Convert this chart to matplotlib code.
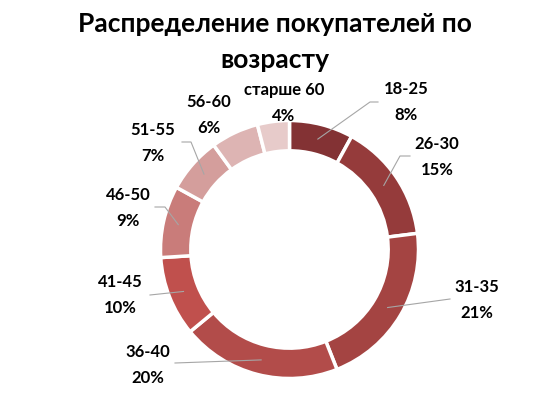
import numpy as np
import matplotlib.pyplot as plt

plt.rcParams['font.family'] = ['Lato', 'DejaVu Sans']

# data
groups = ['18-25', '26-30', '31-35', '36-40', '41-45', '46-50', '51-55', '56-60', 'старше 60']
shares = [8, 15, 21, 20, 10, 9, 7, 6, 4]
colors = ['#833234', '#953B3B', '#A44442', '#B24C4A', '#C0504D',
          '#C97C7A', '#D49E9C', '#DDB4B3', '#E7CBCA']

# label layout in pixels from top-left: text centre, leader elbow, leader end
text_pos = [(406, 102), (437, 157), (477, 300), (148, 365), (120, 295),
            (128, 208), (153, 143), (209, 115), (284, 103)]
elbows = [(370, 102), (400, 156), None, None, None,
          (165, 207), (191, 142), None, None]
ends = [(378, 102), (410, 156), (450, 299), (175, 363), (150, 295),
        (155, 207), (182, 142), None, None]

W, H = 549, 396
fig = plt.figure(figsize=(W / 100, H / 100), dpi=100)
ax = fig.add_axes([0, 0, 1, 1])

cx, cy, R = 289.5, H - 249.5, 129
wedges, _ = ax.pie(shares, colors=colors, startangle=90, counterclock=False,
                   center=(cx, cy), radius=R, frame=True,
                   wedgeprops=dict(width=R * 0.235, edgecolor='white', linewidth=2.5))
ax.set_xlim(0, W)
ax.set_ylim(0, H)
ax.set_aspect('equal')
ax.axis('off')

for w, g, s, tp, el, en in zip(wedges, groups, shares, text_pos, elbows, ends):
    ax.text(tp[0], H - tp[1], f'{g}\n{s}%', ha='center', va='center',
            fontsize=12, fontweight='bold', linespacing=1.7, color='black')
    if en is None:
        continue
    mid = np.deg2rad((w.theta1 + w.theta2) / 2)
    ax_pt = (cx + 114 * np.cos(mid), cy + 114 * np.sin(mid))
    pts = [ax_pt] + ([(el[0], H - el[1])] if el else []) + [(en[0], H - en[1])]
    xs, ys = zip(*pts)
    ax.plot(xs, ys, color='#a6a6a6', linewidth=0.8)

fig.text(0.5, 1 - 42 / H, 'Распределение покупателей по\nвозрасту', ha='center',
         va='center', fontsize=19, fontweight='bold', linespacing=1.57)

fig.savefig('out.png', dpi=100, facecolor='white')
